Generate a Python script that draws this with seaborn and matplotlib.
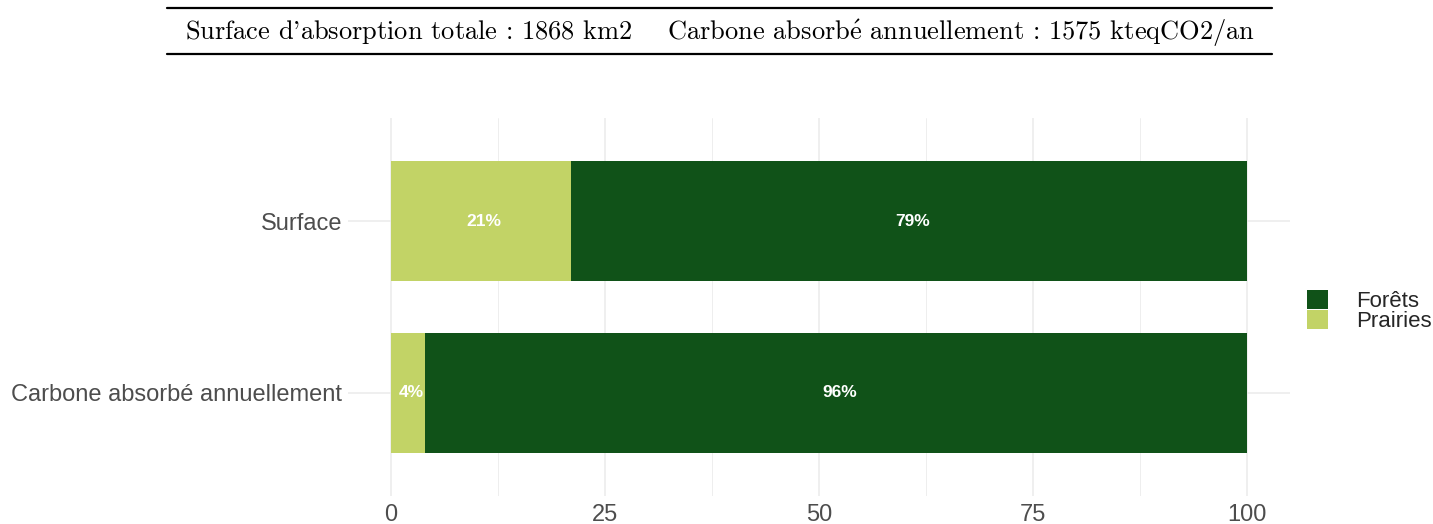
import matplotlib
matplotlib.use("Agg")
import matplotlib.pyplot as plt
import seaborn as sns
import pandas as pd
from matplotlib.ticker import MultipleLocator
from matplotlib.lines import Line2D

categories = ["Surface", "Carbone absorbé annuellement"]
prairies = [21, 4]
forets = [79, 96]
series = ["Forêts", "Prairies"]
colors = {"Forêts": "#105218", "Prairies": "#C2D366"}
header = (r"Surface d'absorption totale : 1868 km2    "
          r"Carbone absorb$\mathrm{\acute{e}}$ annuellement : 1575 kteqCO2/an")

sns.set_theme(style="white")
plt.rcParams["font.family"] = ["Liberation Sans", "DejaVu Sans"]
plt.rcParams["mathtext.fontset"] = "cm"

rows = []
for c, p, f in zip(categories, prairies, forets):
    rows.append({"cat": c, "serie": "Forêts", "cum": p + f})
    rows.append({"cat": c, "serie": "Prairies", "cum": p})
df = pd.DataFrame(rows)

W, H = 1433, 524
fig = plt.figure(figsize=(W / 100, H / 100), dpi=100)
ax = fig.add_axes([348 / W, 1 - 496 / H, 942 / W, 378 / H])

sns.barplot(data=df, y="cat", x="cum", hue="serie", hue_order=series,
            order=categories, palette=colors, dodge=False, width=0.7,
            orient="h", ax=ax, saturation=1, linewidth=0, legend=True)

# value labels
for i, (p, f) in enumerate(zip(prairies, forets)):
    ax.text(p / 2 + 0.4, i, f"{p}%", color="white", ha="center", va="center",
            fontsize=12.5, fontweight="bold")
    ax.text(p + f / 2 + 0.4, i, f"{f}%", color="white", ha="center", va="center",
            fontsize=12.5, fontweight="bold")

ax.set_xlim(-5, 105)
ax.set_ylim(1.6, -0.6)
ax.xaxis.set_major_locator(MultipleLocator(25))
ax.xaxis.set_minor_locator(MultipleLocator(12.5))
ax.set_axisbelow(True)
ax.grid(True, which="major", axis="both", color="#EBEBEB", linewidth=1.1)
ax.grid(True, which="minor", axis="x", color="#EBEBEB", linewidth=0.6)
for s in ax.spines.values():
    s.set_visible(False)
ax.set_xlabel("")
ax.set_ylabel("")
ax.tick_params(axis="x", labelsize=17, colors="#4D4D4D", length=0, pad=6)
ax.tick_params(axis="y", labelsize=17, colors="#4D4D4D", length=0, pad=4)
ax.tick_params(which="minor", length=0)

handles, labels = ax.get_legend_handles_labels()
ax.legend_.remove()
fig.legend(handles, labels, loc="center left", bbox_to_anchor=(1307 / W, 1 - 311 / H),
           frameon=False, fontsize=16, handlelength=0.93, handleheight=0.93,
           labelspacing=-0.08, handletextpad=1.3, borderpad=0, borderaxespad=0)

# header table
fig.text(720 / W, 1 - 33 / H, header, ha="center", va="center", fontsize=19,
         family=["cmr10", "DejaVu Serif"], color="black")
for yy in (8, 54):
    fig.add_artist(Line2D([167 / W, 1272 / W], [1 - yy / H, 1 - yy / H],
                          color="black", linewidth=1.6, transform=fig.transFigure))

fig.savefig("out.png", dpi=100)
